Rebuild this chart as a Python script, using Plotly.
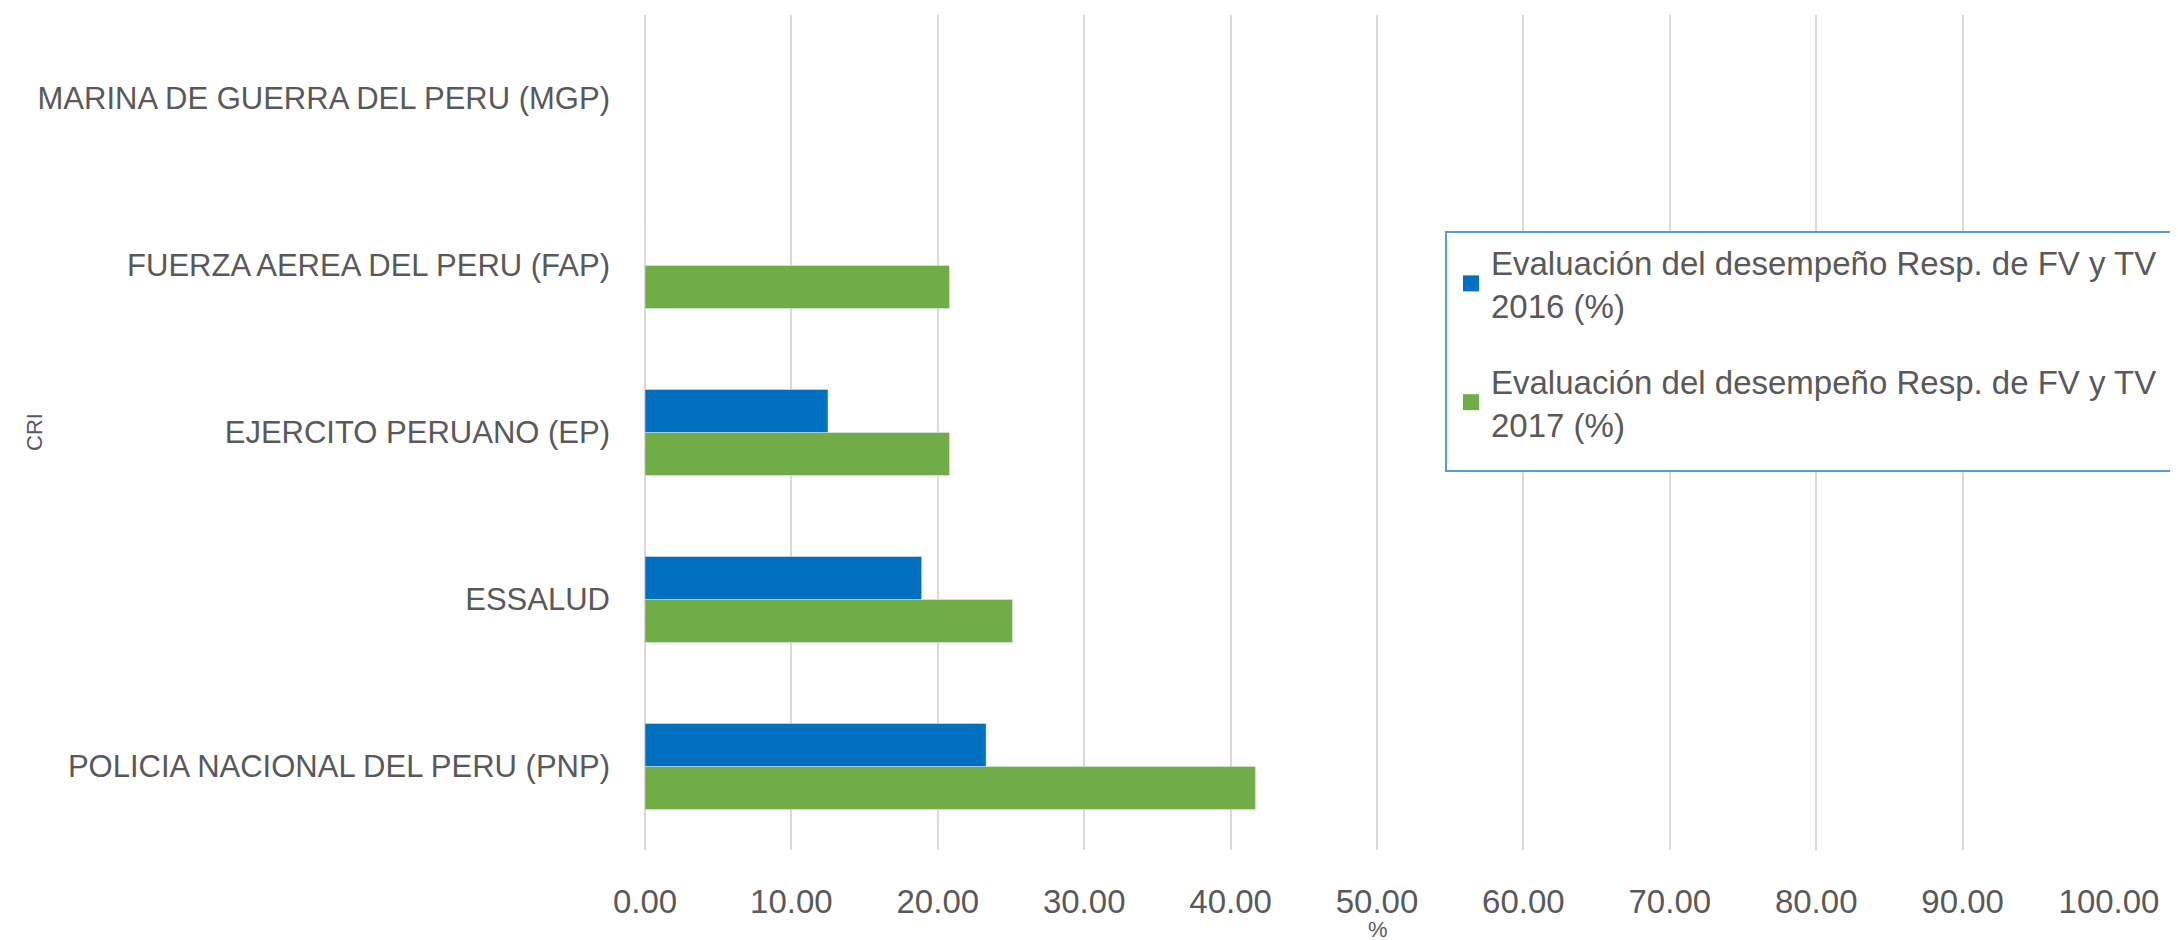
import plotly.graph_objects as go

categories = ["POLICIA NACIONAL DEL PERU (PNP)", "ESSALUD", "EJERCITO PERUANO (EP)",
              "FUERZA AEREA DEL PERU (FAP)", "MARINA DE GUERRA DEL PERU (MGP)"]
values_2016 = [23.3, 18.9, 12.5, 0.0, None]
values_2017 = [41.7, 25.1, 20.8, 20.8, None]
name_2016 = "Evaluación del desempeño Resp. de FV y TV<br>2016 (%)"
name_2017 = "Evaluación del desempeño Resp. de FV y TV<br>2017 (%)"
x_ticks = [0, 10, 20, 30, 40, 50, 60, 70, 80, 90, 100]

FONT = "Liberation Sans, Arial, sans-serif"
GREY = "#595959"
BLUE = "#0070C0"
GREEN = "#70AD47"

W, H = 2178, 940
ML, MR, MT, MB = 637, 77, 7, 98
PW, PH = W - ML - MR, H - MT - MB

def px_x(px):
    return (px - ML) / PW

def px_y(py):
    return (H - MB - py) / PH

fig = go.Figure()
# bars (green first so that blue sits above it within each group)
fig.add_trace(go.Bar(y=categories, x=values_2017, orientation="h", name=name_2017,
                     marker=dict(color=GREEN), showlegend=False))
fig.add_trace(go.Bar(y=categories, x=values_2016, orientation="h", name=name_2016,
                     marker=dict(color=BLUE), showlegend=False))
# legend entries
fig.add_trace(go.Scatter(x=[None], y=[None], mode="markers", name=name_2016,
                         marker=dict(symbol="square", size=21, color=BLUE),
                         legendgroup="a", legendrank=1))
fig.add_trace(go.Scatter(x=[None], y=[None], mode="markers", name=name_2017,
                         marker=dict(symbol="square", size=21, color=GREEN),
                         legendgroup="b", legendrank=2))

fig.update_layout(
    width=W, height=H,
    margin=dict(l=ML, r=MR, t=MT, b=MB),
    paper_bgcolor="white", plot_bgcolor="white",
    barmode="group", bargap=0.485, bargroupgap=0,
    font=dict(family=FONT, color=GREY, size=31),
    showlegend=True,
    legend=dict(
        x=px_x(1443), y=px_y(226), xanchor="left", yanchor="top",
        borderwidth=0, bgcolor="rgba(0,0,0,0)",
        font=dict(family=FONT, size=33, color=GREY),
        traceorder="grouped", tracegroupgap=30,
    ),
    xaxis=dict(
        range=[0, 100], tickvals=x_ticks, tickformat=".2f",
        showgrid=True, gridcolor="#D9D9D9", gridwidth=1.5,
        zeroline=True, zerolinecolor="#D9D9D9", zerolinewidth=1.5,
        showline=False, ticks="", ticklabelstandoff=29,
        tickfont=dict(family=FONT, size=33, color=GREY),
    ),
    yaxis=dict(
        categoryorder="array", categoryarray=categories,
        showgrid=False, zeroline=False, showline=False, ticks="",
        ticklabelstandoff=34,
        tickfont=dict(family=FONT, size=31, color=GREY),
    ),
    shapes=[
        dict(type="rect", xref="paper", yref="paper",
             x0=px_x(1438), x1=px_x(2168), y0=px_y(463), y1=px_y(224),
             line=dict(color="#5B9BD5", width=2), fillcolor="white", layer="above"),
    ],
    annotations=[
        dict(text="CRI", xref="paper", yref="paper", x=px_x(26), y=px_y(424),
             xanchor="center", yanchor="middle", textangle=-90, showarrow=False,
             font=dict(family=FONT, size=22, color=GREY)),
        dict(text="%", xref="paper", yref="paper", x=px_x(1370), y=px_y(908),
             xanchor="center", yanchor="top", showarrow=False, borderpad=0,
             font=dict(family=FONT, size=22, color=GREY)),
    ],
)

fig.write_html("out.html")
